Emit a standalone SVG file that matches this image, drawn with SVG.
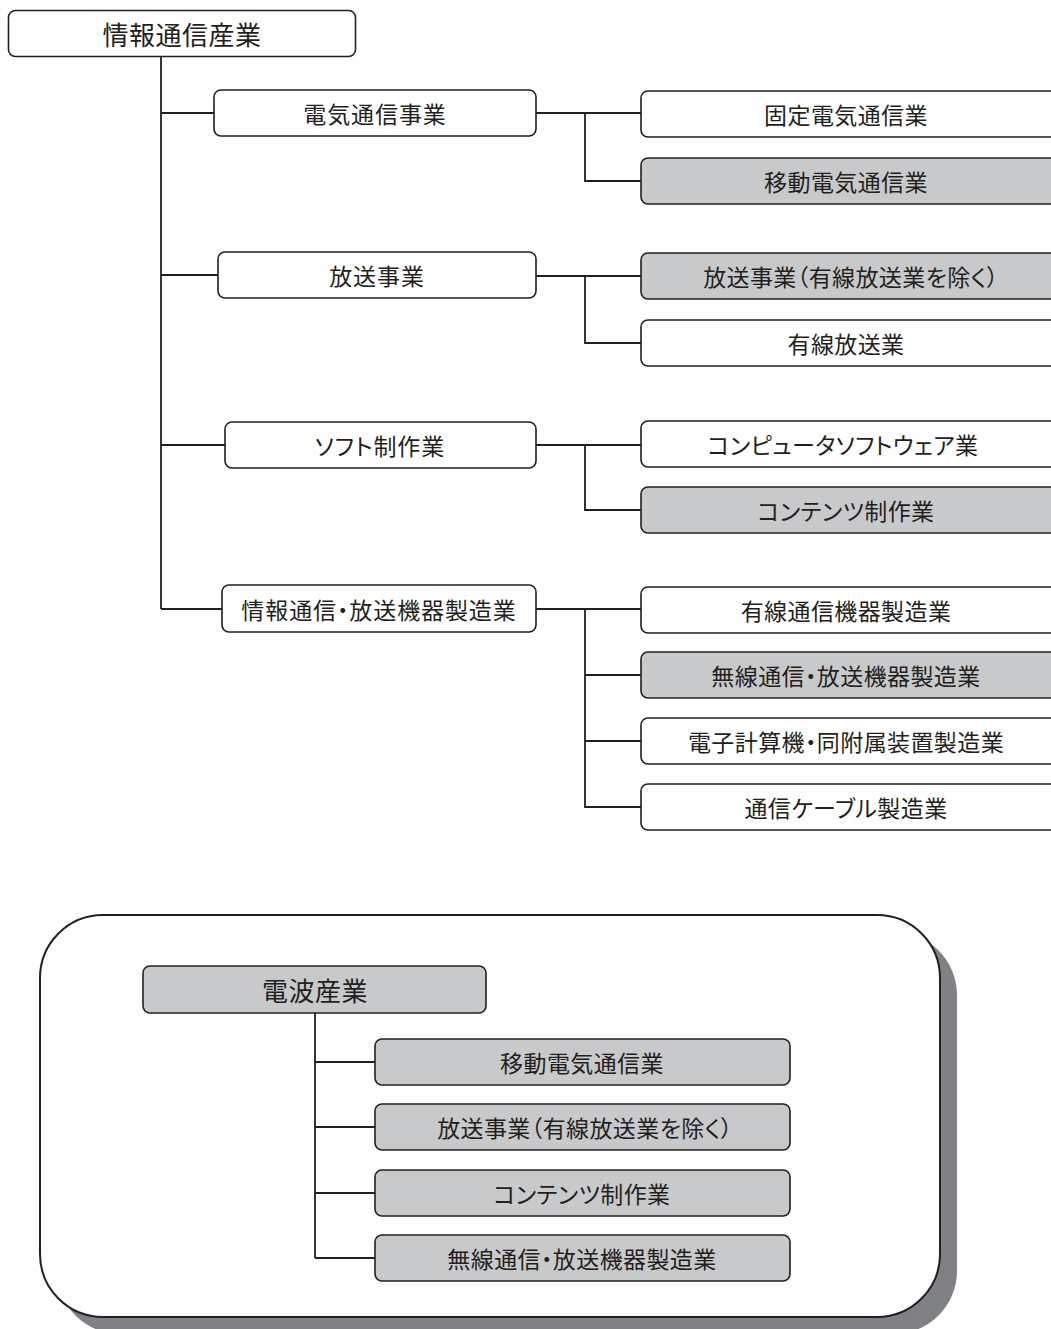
<svg xmlns="http://www.w3.org/2000/svg" width="1051" height="1329" viewBox="0 0 1051 1329">
<style>
.box{fill:#ffffff;stroke:#231f20;stroke-width:1.6}
.gray{fill:#c8c9cb;stroke:#231f20;stroke-width:1.6}
.conn{fill:none;stroke:#231f20;stroke-width:1.8}
text{font-family:"Noto Sans CJK JP","Noto Sans CJK SC",sans-serif;fill:#231f20;text-anchor:middle;dominant-baseline:central;font-feature-settings:"palt"}
.t1{font-size:26px;letter-spacing:0.5px}
.t2{font-size:23px;letter-spacing:0.9px}
.t3{font-size:23px;letter-spacing:0.4px}
</style>
<rect width="1051" height="1329" fill="#ffffff"/>

<!-- bottom frame -->
<g id="frame">
<rect x="57" y="932" width="900" height="402" rx="63" fill="#808184"/>
<rect x="40" y="915" width="900" height="402" rx="63" fill="#ffffff" stroke="#231f20" stroke-width="2"/>
</g>

<g id="connectors">
<path class="conn" d="M161,57 V609 M161,113 H214 M161,275 H218 M161,445 H225 M161,609 H222"/>
<path class="conn" d="M536,113 H641 M585,113 V181 H641"/>
<path class="conn" d="M536,276 H641 M585,276 V343 H641"/>
<path class="conn" d="M536,445 H641 M585,445 V510 H641"/>
<path class="conn" d="M536,609 H641 M585,609 V807 H641 M585,675 H641 M585,741 H641"/>
<path class="conn" d="M315,1013 V1258 M315,1062 H375 M315,1127 H375 M315,1193 H375 M315,1258 H375"/>
</g>

<g id="n-root"><rect class="box" x="8.5" y="10.5" width="347" height="46" rx="7"/><text class="t1" x="182" y="33.5">情報通信産業</text></g>

<g id="n-denki"><rect class="box" x="214" y="90" width="322" height="46" rx="7"/><text class="t2" x="375" y="113">電気通信事業</text></g>
<g id="n-hoso"><rect class="box" x="218" y="252" width="318" height="46" rx="7"/><text class="t2" x="377" y="275">放送事業</text></g>
<g id="n-soft"><rect class="box" x="225" y="422" width="311" height="46" rx="7"/><text class="t2" x="380" y="445">ソフト制作業</text></g>
<g id="n-kiki"><rect class="box" x="222" y="585" width="314" height="47" rx="7"/><text class="t2" x="379" y="608.5">情報通信・放送機器製造業</text></g>

<g id="n-kotei"><rect class="box" x="641" y="91" width="440" height="46" rx="7"/><text class="t3" x="846" y="114">固定電気通信業</text></g>
<g id="n-ido"><rect class="gray" x="641" y="158" width="440" height="46" rx="7"/><text class="t3" x="846" y="181">移動電気通信業</text></g>
<g id="n-hoso2"><rect class="gray" x="641" y="253" width="440" height="46" rx="7"/><text class="t3" x="851" y="276">放送事業（有線放送業を除く）</text></g>
<g id="n-yusen"><rect class="box" x="641" y="320" width="440" height="46" rx="7"/><text class="t3" x="846" y="343">有線放送業</text></g>
<g id="n-computer"><rect class="box" x="641" y="421" width="440" height="46" rx="7"/><text class="t3" x="843" y="444">コンピュータソフトウェア業</text></g>
<g id="n-contents"><rect class="gray" x="641" y="487" width="440" height="46" rx="7"/><text class="t3" x="846" y="510">コンテンツ制作業</text></g>
<g id="n-yusenkiki"><rect class="box" x="641" y="587" width="440" height="46" rx="7"/><text class="t3" x="846" y="610">有線通信機器製造業</text></g>
<g id="n-musen"><rect class="gray" x="641" y="652" width="440" height="46" rx="7"/><text class="t3" x="846" y="675">無線通信・放送機器製造業</text></g>
<g id="n-denshi"><rect class="box" x="641" y="718" width="440" height="46" rx="7"/><text class="t3" x="846" y="741">電子計算機・同附属装置製造業</text></g>
<g id="n-cable"><rect class="box" x="641" y="784" width="440" height="46" rx="7"/><text class="t3" x="846" y="807">通信ケーブル製造業</text></g>

<g id="n-denpa"><rect class="gray" x="143" y="966" width="343" height="47" rx="7"/><text class="t1" x="315" y="989.5">電波産業</text></g>
<g id="n-b-ido"><rect class="gray" x="375" y="1039" width="415" height="46" rx="7"/><text class="t3" x="582" y="1062">移動電気通信業</text></g>
<g id="n-b-hoso"><rect class="gray" x="375" y="1104" width="415" height="46" rx="7"/><text class="t3" x="585" y="1127">放送事業（有線放送業を除く）</text></g>
<g id="n-b-contents"><rect class="gray" x="375" y="1170" width="415" height="46" rx="7"/><text class="t3" x="582" y="1193">コンテンツ制作業</text></g>
<g id="n-b-musen"><rect class="gray" x="375" y="1235" width="415" height="46" rx="7"/><text class="t3" x="582" y="1258">無線通信・放送機器製造業</text></g>
</svg>
